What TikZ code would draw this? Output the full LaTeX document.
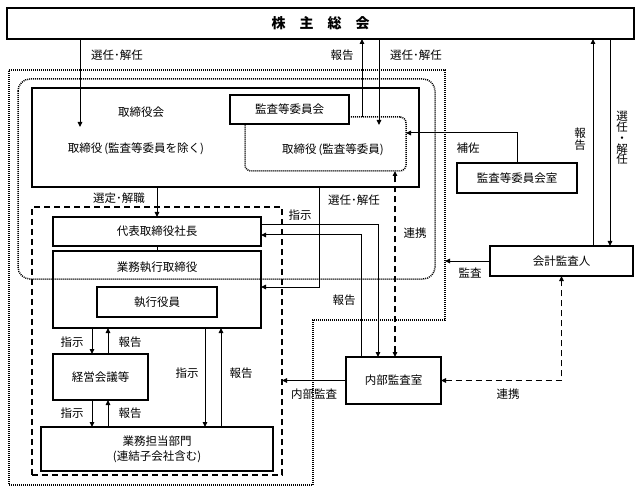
\documentclass[tikz,border=0pt]{standalone}
\usepackage{fontspec}
\setmainfont{Noto Sans CJK JP}
\usetikzlibrary{arrows.meta}
\newcommand\myfs{\fontsize{11.5bp}{14bp}\selectfont}
\newcommand\mytitlefs{\fontsize{14bp}{16bp}\selectfont}
\tikzset{
  box/.style={draw, line width=1.5bp, inner sep=0pt, outer sep=0pt, font=\myfs, align=center},
  lbl/.style={inner sep=0pt, font=\myfs},
  conn/.style={line width=1bp, -{Triangle[length=5bp,width=4.5bp]}},
  conn2/.style={line width=1.2bp, dash pattern=on 6bp off 4bp, {Triangle[length=5bp,width=4.5bp]}-{Triangle[length=5bp,width=4.5bp]}},
  plainline/.style={line width=1bp},
  dotline/.style={line width=1.5bp, dash pattern=on 1bp off 1bp},
  dashline/.style={line width=1.2bp, dash pattern=on 6bp off 4bp}
}
\begin{document}
\begin{tikzpicture}[x=1bp,y=-1bp]
\useasboundingbox (0,0) rectangle (640,494);
% enclosures
\draw[dotline] (9,70) -- (445,70) -- (445,320) -- (313,320) -- (313,485) -- (9,485) -- cycle;
\draw[dotline, rounded corners=12bp] (18,79) rectangle (435,279);
\node[draw, dashline, minimum width=250bp, minimum height=268bp, inner sep=0pt, outer sep=0pt] (exec) at (157,341) {};
% boxes
\node[box, minimum width=627bp, minimum height=31bp, font=\mytitlefs\bfseries] (soukai) at (320.5,23.5) {株　主　総　会};
\node[box, minimum width=387bp, minimum height=99bp] (torikai) at (225.5,137.5) {};
\node[lbl] (tkT1) at (141,112) {取締役会};
\node[lbl] (tkT2) at (136,149) {取締役\,(監査等委員を除く)};
\node[draw, dotline, rounded corners=6bp, minimum width=161bp, minimum height=54bp, inner sep=0pt, outer sep=0pt] (kt) at (325.5,144) {};
\node[lbl] (ktT) at (333,150) {取締役\,(監査等委員)};
\node[box, fill=white, minimum width=119bp, minimum height=29bp] (iinkai) at (289.5,109.5) {監査等委員会};
\node[box, minimum width=120bp, minimum height=30bp] (shitsu) at (517,178) {監査等委員会室};
\node[box, minimum width=143bp, minimum height=30bp] (kaikei) at (561.5,261) {会計監査人};
\node[box, minimum width=95bp, minimum height=47bp] (naibu) at (393.5,380.5) {内部監査室};
\node[box, minimum width=208bp, minimum height=29bp] (shacho) at (157,231.5) {代表取締役社長};
\node[box, minimum width=208bp, minimum height=77bp] (gyomu) at (157,289.5) {};
\node[lbl] (gyT) at (157,267) {業務執行取締役};
\node[box, minimum width=120bp, minimum height=30bp] (shikko) at (157,302) {執行役員};
\node[box, minimum width=95bp, minimum height=46bp] (keiei) at (100.5,377) {経営会議等};
\node[box, minimum width=232bp, minimum height=44bp, font=\fontsize{11.5bp}{15bp}\selectfont] (bumon) at (157,449) {業務担当部門\\(連結子会社含む)};
% free ends
\coordinate (e1) at (80,127);
\coordinate (e2) at (379,125);
\coordinate (e3) at (445,261);
% connectors
\draw[conn] (80,0 |- soukai.south) -- (e1);
\draw[conn] (362,0 |- kt.north) -- (362,0 |- soukai.south);
\draw[conn] (379,0 |- soukai.south) -- (e2);
\draw[conn] (shitsu.north) |- ([yshift=11bp]kt.east);
\draw[conn] (593,0 |- kaikei.north) -- (593,0 |- soukai.south);
\draw[conn] (610,0 |- soukai.south) -- (610,0 |- kaikei.north);
\draw[conn] (kaikei.west) -- (e3);
\draw[conn] (157,0 |- torikai.south) -- (shacho.north);
\draw[plainline] (shacho.south) -- (gyomu.north);
\draw[conn] (shacho.east |- 0,225) -| (378,0 |- naibu.north);
\draw[conn] (361,0 |- naibu.north) |- (shacho.east |- 0,235);
\draw[conn] (319,0 |- torikai.south) |- (gyomu.east |- 0,287);
\draw[conn2] (395,0 |- naibu.north) -- (395,0 |- kt.south);
\draw[conn] (naibu.west) -- (naibu.west -| exec.east);
\draw[conn2] (naibu.east) -| (kaikei.south);
\draw[conn] (92,0 |- gyomu.south) -- (92,0 |- keiei.north);
\draw[conn] (108,0 |- keiei.north) -- (108,0 |- gyomu.south);
\draw[conn] (92,0 |- keiei.south) -- (92,0 |- bumon.north);
\draw[conn] (108,0 |- bumon.north) -- (108,0 |- keiei.south);
\draw[conn] (205,0 |- gyomu.south) -- (205,0 |- bumon.north);
\draw[conn] (221,0 |- bumon.north) -- (221,0 |- gyomu.south);
% labels
\node[lbl] (l1) at (117,55) {選任･解任};
\node[lbl] (l2) at (342,55) {報告};
\node[lbl] (l3) at (416,55) {選任･解任};
\node[lbl, align=center, font=\fontsize{11.5bp}{12bp}\selectfont] (l4) at (580,139) {報\\告};
\node[lbl, align=center, font=\fontsize{11.5bp}{10.8bp}\selectfont] (l5) at (622,138) {選\\任\\・\\解\\任};
\node[lbl] (l6) at (468,148) {補佐};
\node[lbl] (l7) at (119,198) {選定･解職};
\node[lbl] (l8) at (300,215) {指示};
\node[lbl] (l9) at (354,200) {選任･解任};
\node[lbl] (l10) at (415,233) {連携};
\node[lbl] (l11) at (470,273) {監査};
\node[lbl] (l12) at (344,300) {報告};
\node[lbl] (l13) at (314,394) {内部監査};
\node[lbl] (l14) at (508,394) {連携};
\node[lbl] (l15) at (72,342) {指示};
\node[lbl] (l16) at (130,342) {報告};
\node[lbl] (l17) at (72,413) {指示};
\node[lbl] (l18) at (130,413) {報告};
\node[lbl] (l19) at (187,373) {指示};
\node[lbl] (l20) at (241,373) {報告};
\end{tikzpicture}
\end{document}
